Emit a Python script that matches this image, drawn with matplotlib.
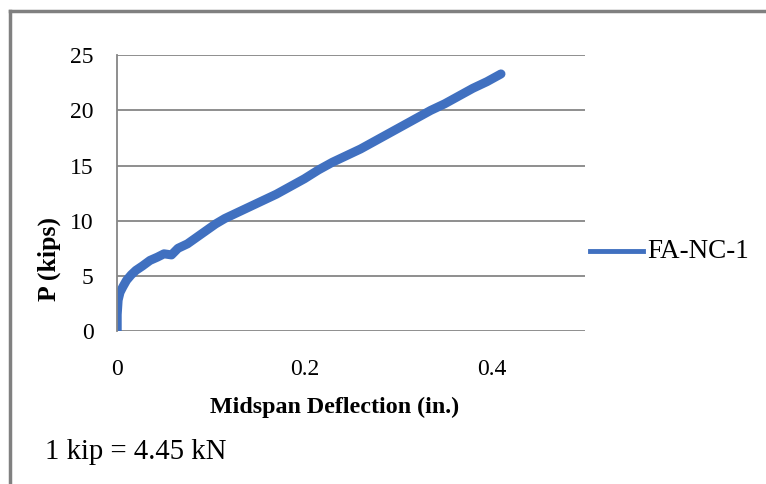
import matplotlib.pyplot as plt
from matplotlib.lines import Line2D

# Load-deflection data
deflection = [0, 0, 0.001, 0.003, 0.006, 0.010, 0.015, 0.020, 0.027, 0.035, 0.043,
              0.050, 0.058, 0.065, 0.075, 0.085, 0.095, 0.105, 0.115, 0.125, 0.140,
              0.155, 0.170, 0.185, 0.200, 0.215, 0.230, 0.245, 0.260, 0.275, 0.290,
              0.305, 0.320, 0.335, 0.350, 0.365, 0.380, 0.395, 0.410]
load = [0, 1.5, 2.8, 3.5, 4.0, 4.6, 5.1, 5.5, 5.9, 6.4, 6.7,
        7.0, 6.9, 7.5, 7.9, 8.5, 9.1, 9.7, 10.2, 10.6, 11.2,
        11.8, 12.4, 13.1, 13.8, 14.6, 15.3, 15.9, 16.5, 17.2, 17.9,
        18.6, 19.3, 20.0, 20.6, 21.3, 22.0, 22.6, 23.3]
x_ticks = [0, 0.2, 0.4]
x_tick_labels = ["0", "0.2", "0.4"]
y_ticks = [0, 5, 10, 15, 20, 25]
series_name = "FA-NC-1"

plt.rcParams['font.family'] = ['Liberation Serif', 'DejaVu Serif']

fig = plt.figure(figsize=(7.66, 4.84), dpi=100)
ax = fig.add_axes([0.153, 0.316, 0.611, 0.570])

blue = '#4070C0'
ax.plot(deflection, load, color=blue, lw=6.5, solid_capstyle='round', solid_joinstyle='round')

ax.set_xlim(0, 0.5)
ax.set_ylim(0, 25)
ax.set_xticks(x_ticks)
ax.set_xticklabels(x_tick_labels)
ax.set_yticks(y_ticks)
ax.tick_params(length=0, labelsize=17)
ax.tick_params(axis='x', pad=20)
ax.tick_params(axis='y', pad=17)

ax.grid(axis='y', color='#868686', lw=1.3)
ax.set_axisbelow(True)
for s in ['top', 'right', 'bottom']:
    ax.spines[s].set_visible(False)
ax.spines['left'].set_color('#868686')
ax.spines['left'].set_linewidth(1.3)

# axis titles
fig.text(335 / 766, 1 - 407 / 484, "Midspan Deflection (in.)", fontsize=17.3,
         fontweight='bold', ha='center', va='center')
fig.text(49 / 766, 1 - 259 / 484, "P (kips)", fontsize=18.5, fontweight='bold',
         rotation=90, ha='center', va='center')

# legend drawn by hand, like Excel places it
fig.add_artist(Line2D([590 / 766, 643 / 766], [1 - 251 / 484, 1 - 251 / 484],
                      color=blue, lw=3.5))
fig.text(647 / 766, 1 - 252 / 484, series_name, fontsize=19.5, ha='left', va='center')

# note under the chart
fig.text(45 / 766, 1 - 452 / 484, "1 kip = 4.45 kN", fontsize=20.7, ha='left', va='center')

# frame lines on top and left
fig.add_artist(Line2D([10 / 766, 1], [1 - 11 / 484, 1 - 11 / 484], color='#808080', lw=2.5))
fig.add_artist(Line2D([10 / 766, 10 / 766], [0, 1 - 11 / 484], color='#808080', lw=2.5))

fig.savefig("out.png", dpi=100)
